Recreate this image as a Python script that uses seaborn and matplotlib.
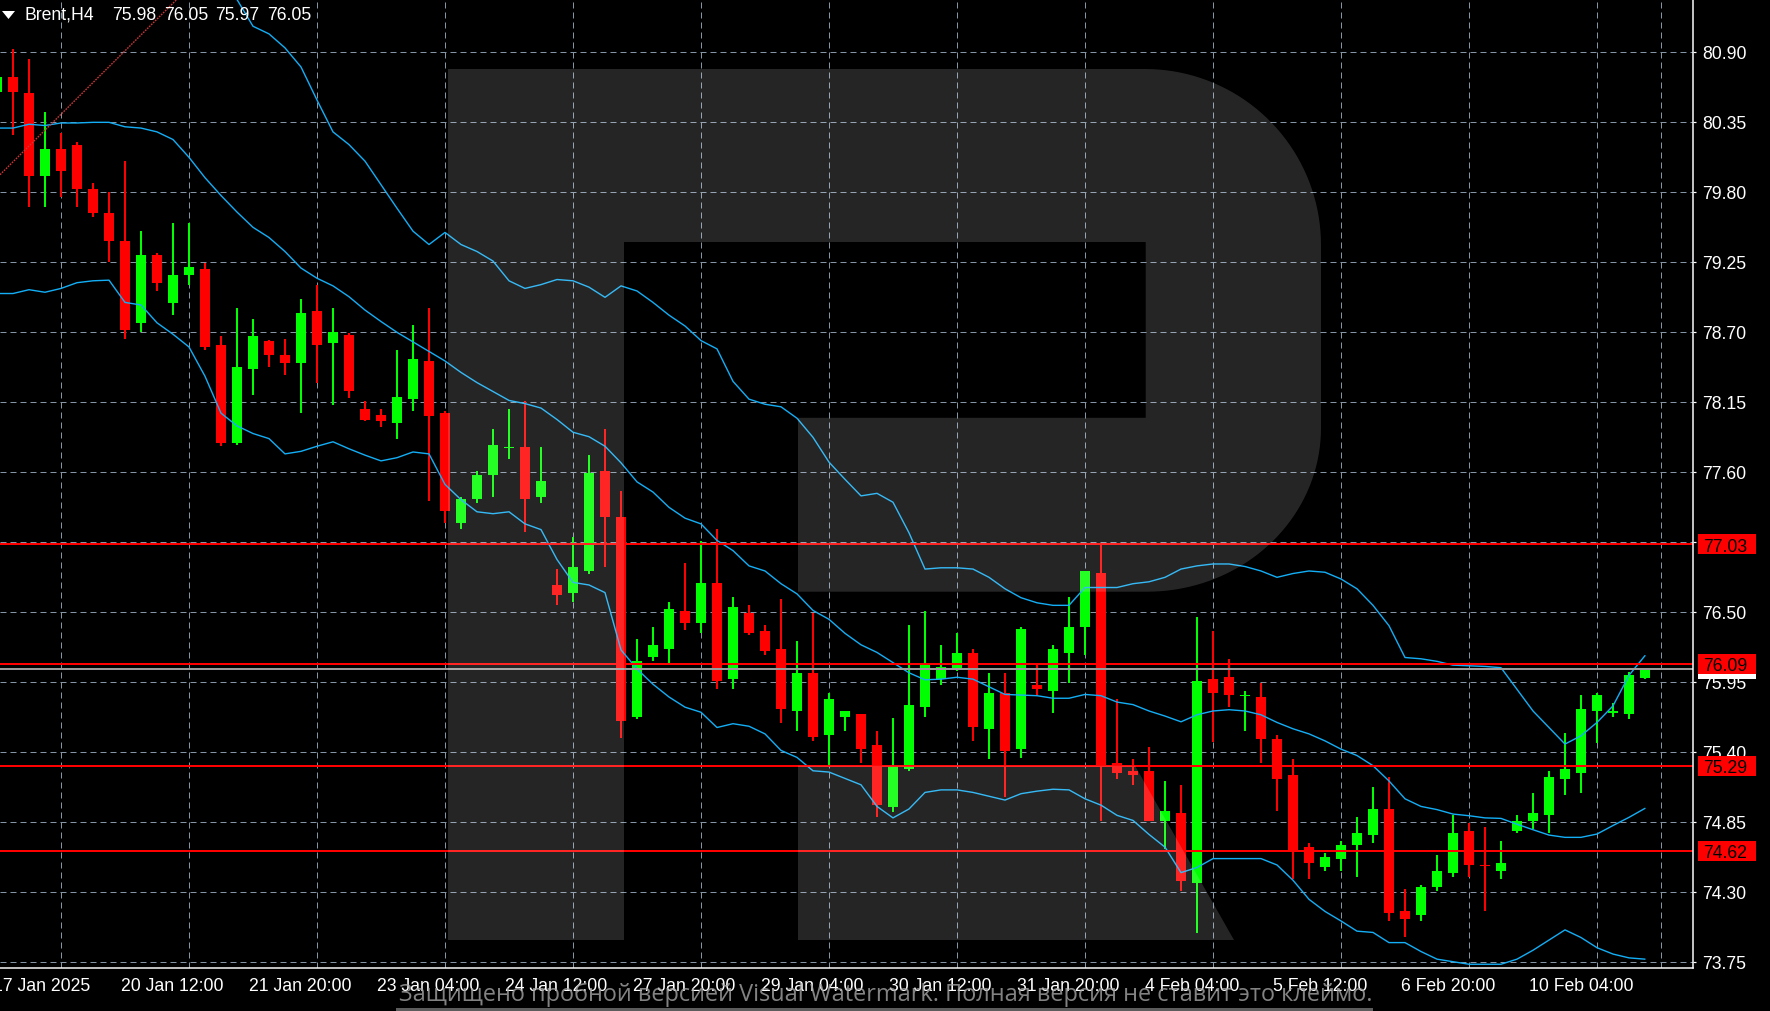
import numpy as np
import pandas as pd
import matplotlib
matplotlib.use("Agg")
import matplotlib.pyplot as plt
import matplotlib.transforms as mtransforms
from matplotlib.patches import Polygon, Rectangle
import seaborn as sns

# ---------------- data ----------------
FIRST_BAR = -1
OPEN = [80.58, 80.70, 80.575, 79.92, 80.135, 80.17, 79.82, 79.63, 79.41, 78.77, 79.30, 78.925, 79.145, 79.19,
        78.595, 77.825, 78.41, 78.63, 78.52, 78.455, 78.86, 78.61, 78.675, 78.09, 78.045, 77.98, 78.17, 78.47,
        78.06, 77.195, 77.385, 77.575, 77.785, 77.795, 77.40, 76.71, 76.65, 76.82, 77.605, 77.245, 75.67,
        76.145, 76.205, 76.505, 76.41, 76.725, 75.97, 76.49, 76.35, 76.21, 75.72, 76.02, 75.53, 75.67, 75.70,
        75.45, 74.965, 75.265, 75.75, 75.97, 76.05, 76.175, 75.58, 75.86, 75.42, 75.925, 75.88, 76.175, 76.38,
        76.805, 75.31, 75.25, 75.25, 74.855, 74.92, 74.37, 75.97, 75.985, 75.835, 75.83, 75.50, 75.215, 74.65,
        74.495, 74.557, 74.667, 74.745, 74.95, 74.148, 74.117, 74.337, 74.447, 74.777, 74.51, 74.46, 74.777,
        74.855, 74.90, 75.185, 75.23, 75.72, 75.705, 75.70, 75.98]
HIGH = [80.85, 80.92, 80.84, 80.43, 80.26, 80.19, 79.87, 79.795, 80.04, 79.49, 79.32, 79.555, 79.555, 79.24,
        78.67, 78.89, 78.80, 78.635, 78.64, 78.96, 79.07, 78.89, 78.69, 78.155, 78.09, 78.56, 78.75, 78.89,
        78.08, 77.40, 77.605, 77.935, 78.09, 78.155, 77.795, 76.835, 77.09, 77.73, 77.935, 77.45, 76.285,
        76.38, 76.58, 76.88, 77.055, 77.15, 76.615, 76.55, 76.395, 76.60, 76.27, 76.49, 75.86, 75.72, 75.70,
        75.56, 75.665, 76.395, 76.505, 76.24, 76.33, 76.21, 76.02, 76.02, 76.38, 76.08, 76.24, 76.615, 76.82,
        77.035, 75.815, 75.34, 75.435, 75.17, 75.14, 76.46, 76.35, 76.13, 75.88, 75.94, 75.53, 75.34, 74.68,
        74.605, 74.70, 74.887, 75.12, 75.20, 74.32, 74.35, 74.59, 74.90, 74.84, 74.808, 74.70, 74.90,
        75.075, 75.25, 75.547, 75.845, 75.86, 75.78, 76.03, 76.05]
LOW = [80.45, 80.245, 79.68, 79.68, 79.76, 79.68, 79.60, 79.25, 78.64, 78.695, 79.02, 78.83, 79.07, 78.56,
       77.80, 77.81, 78.20, 78.42, 78.36, 78.06, 78.30, 78.125, 78.18, 78.00, 77.95, 77.86, 78.08, 77.37,
       77.195, 77.15, 77.355, 77.40, 77.70, 77.13, 77.355, 76.55, 76.58, 76.80, 76.85, 75.51, 75.66,
       76.11, 76.095, 76.36, 76.33, 75.89, 75.89, 76.32, 76.16, 75.625, 75.56, 75.485, 75.295, 75.56, 75.31,
       74.89, 74.93, 75.25, 75.67, 75.925, 76.035, 75.485, 75.34, 75.045, 75.35, 75.845, 75.705, 75.94, 76.16,
       74.855, 75.185, 75.14, 74.855, 74.635, 74.305, 73.975, 75.48, 75.75, 75.56, 75.31, 74.935, 74.40, 74.40,
       74.46, 74.46, 74.415, 74.68, 74.07, 73.944, 74.07, 74.305, 74.415, 74.415, 74.148, 74.40, 74.76,
       74.79, 74.76, 75.06, 75.075, 75.47, 75.67, 75.657, 75.97]
CLOSE = [80.70, 80.58, 79.92, 80.135, 79.965, 79.82, 79.63, 79.41, 78.71, 79.30, 79.08, 79.145, 79.21, 78.58,
         77.825, 78.42, 78.67, 78.52, 78.455, 78.85, 78.595, 78.695, 78.235, 78.01, 78.00, 78.19, 78.485, 78.035,
         77.29, 77.385, 77.575, 77.81, 77.795, 77.385, 77.525, 76.63, 76.85, 77.59, 77.245, 75.64, 76.11,
         76.24, 76.52, 76.41, 76.725, 75.955, 76.535, 76.33, 76.19, 75.735, 76.02, 75.515, 75.815, 75.72, 75.42,
         74.98, 75.28, 75.77, 76.08, 76.065, 76.175, 75.595, 75.86, 75.405, 76.365, 75.89, 76.21, 76.38, 76.82,
         75.29, 75.23, 75.22, 74.855, 74.935, 74.385, 75.955, 75.86, 75.845, 75.845, 75.50, 75.185, 74.62, 74.525,
         74.57, 74.667, 74.76, 74.95, 74.13, 74.085, 74.337, 74.46, 74.76, 74.51, 74.50, 74.525, 74.855,
         74.92, 75.20, 75.264, 75.735, 75.845, 75.715, 76.00, 76.05]

BB_UPPER = [np.nan] * 14 + [81.52, 81.31, 81.10, 81.04, 80.93, 80.78, 80.52, 80.27, 80.17, 80.04, 79.855,
            79.67, 79.49, 79.385, 79.48, 79.385, 79.33, 79.255, 79.10, 79.04, 79.07, 79.11, 79.10, 79.05,
            78.97, 79.06, 79.02, 78.93, 78.83, 78.745, 78.63, 78.565, 78.31, 78.17, 78.13, 78.11, 78.02,
            77.87, 77.675, 77.54, 77.41, 77.43, 77.36, 77.12, 76.835, 76.845, 76.845, 76.835, 76.77, 76.68,
            76.61, 76.57, 76.55, 76.55, 76.69, 76.69, 76.69, 76.72, 76.735, 76.77, 76.835, 76.86, 76.875,
            76.875, 76.855, 76.82, 76.77, 76.80, 76.82, 76.81, 76.757, 76.68, 76.55, 76.39, 76.14, 76.13,
            76.11, 76.08, 76.075, 76.07, 76.06, 75.89, 75.72, 75.59, 75.46, 75.525, 75.63, 75.76, 76.00, 76.155]
BB_MIDDLE = [80.30, 80.30, 80.33, 80.32, 80.34, 80.34, 80.345, 80.345, 80.31, 80.30, 80.27, 80.21, 80.07,
             79.91, 79.77, 79.64, 79.52, 79.44, 79.33, 79.20, 79.12, 79.06, 78.975, 78.87, 78.78, 78.695,
             78.62, 78.545, 78.47, 78.38, 78.30, 78.23, 78.16, 78.135, 78.10, 78.01, 77.91, 77.875, 77.80,
             77.67, 77.52, 77.44, 77.32, 77.235, 77.19, 77.06, 76.98, 76.86, 76.82, 76.72, 76.64, 76.51,
             76.44, 76.33, 76.24, 76.18, 76.10, 76.02, 75.965, 75.97, 75.985, 75.97, 75.91, 75.85, 75.845,
             75.84, 75.82, 75.82, 75.85, 75.84, 75.79, 75.77, 75.72, 75.68, 75.635, 75.69, 75.72, 75.73,
             75.72, 75.69, 75.63, 75.58, 75.54, 75.485, 75.42, 75.37, 75.29, 75.17, 75.03, 74.97, 74.945,
             74.91, 74.897, 74.88, 74.876, 74.83, 74.787, 74.745, 74.727, 74.727, 74.753, 74.82, 74.884, 74.955]
BB_LOWER = [79.00, 79.00, 79.03, 79.01, 79.04, 79.085, 79.10, 79.105, 78.93, 78.91, 78.77, 78.68, 78.58,
            78.35, 78.06, 77.96, 77.90, 77.86, 77.74, 77.76, 77.80, 77.835, 77.78, 77.73, 77.685, 77.71,
            77.755, 77.74, 77.50, 77.38, 77.285, 77.27, 77.285, 77.19, 77.145, 76.91, 76.73, 76.71, 76.65,
            76.20, 76.05, 75.93, 75.83, 75.75, 75.71, 75.59, 75.62, 75.60, 75.54, 75.41, 75.355, 75.25,
            75.24, 75.19, 75.14, 74.97, 74.88, 74.95, 75.08, 75.10, 75.10, 75.08, 75.05, 75.02, 75.07,
            75.09, 75.105, 75.10, 75.03, 74.98, 74.90, 74.86, 74.75, 74.65, 74.45, 74.49, 74.56, 74.56,
            74.56, 74.56, 74.51, 74.39, 74.24, 74.145, 74.07, 73.99, 73.98, 73.90, 73.90, 73.83, 73.77,
            73.75, 73.73, 73.73, 73.73, 73.77, 73.84, 73.92, 74.00, 73.94, 73.86, 73.81, 73.78, 73.77]

LEVELS = [77.03, 76.09, 75.29, 74.62]
BID = 76.05
PRICE_TICKS = [80.90, 80.35, 79.80, 79.25, 78.70, 78.15, 77.60, 77.05, 76.50, 75.95, 75.40, 74.85, 74.30, 73.75]
TIME_TICKS = [-1, 7, 15, 23, 31, 39, 47, 55, 63, 71, 79, 87, 95]
TIME_LABELS = ["17 Jan 2025", "20 Jan 12:00", "21 Jan 20:00", "23 Jan 04:00", "24 Jan 12:00", "27 Jan 20:00",
               "29 Jan 04:00", "30 Jan 12:00", "31 Jan 20:00", "4 Feb 04:00", "5 Feb 12:00", "6 Feb 20:00",
               "10 Feb 04:00"]
GRID_BARS = list(range(3, 104, 4))
TREND_X = [-1.0, 12.0]
TREND_Y = [79.91, 81.53]
SYMBOL = "Brent,H4"
TITLE_VALUES = ["75.98", "76.05", "75.97", "76.05"]
TRIAL_TEXT = "Защищено пробной версией Visual Watermark. Полная версия не ставит это клеймо."

# ---------------- geometry (pixels) ----------------
W, H = 1770, 1012
AX_R, AX_B = 1693, 968.6
X0, PXB = 13.0, 16.0
PPX = 0.55 / 70.0            # price per pixel


def p_at(py):
    return 80.90 - (py - 52.7) * PPX


PX = 1 / 100 * 72            # points per pixel

sns.set_theme(style="dark", rc={"axes.facecolor": "black", "figure.facecolor": "black",
                                "axes.edgecolor": "white", "lines.scale_dashes": True})
plt.rcParams["font.family"] = ["Liberation Sans", "DejaVu Sans"]

fig = plt.figure(figsize=(W / 100, H / 100), dpi=100)
fig.patch.set_facecolor("black")
ax = fig.add_axes([0, (H - AX_B) / H, AX_R / W, AX_B / H])
ax.set_facecolor("black")

n = len(OPEN)
idx = np.arange(FIRST_BAR, FIRST_BAR + n)
o = np.array(OPEN); h = np.array(HIGH); l = np.array(LOW); c = np.array(CLOSE)
up = c >= o
col = np.where(up, "#00ff00", "#ff0000")

ax.set_xlim(-X0 / PXB, (AX_R - X0) / PXB)
ax.set_ylim(p_at(AX_B), p_at(0))

# grid
ax.set_axisbelow(True)
ax.set_xticks(GRID_BARS, minor=True)
ax.set_xticks([t for t in TIME_TICKS if t >= 0])
ax.set_xticklabels([])
ax.set_yticks(PRICE_TICKS)
ax.set_yticklabels([f"{v:.2f}" for v in PRICE_TICKS])
ax.yaxis.tick_right()
gstyle = dict(color="#8595a6", linewidth=PX, linestyle=(0, (6, 4)))
ax.xaxis.grid(True, which="minor", **gstyle)
ax.xaxis.grid(False, which="major")
ax.yaxis.grid(True, which="major", **gstyle)
ax.tick_params(axis="x", which="minor", length=0)
ax.tick_params(axis="x", which="major", length=5 * PX, width=1.2 * PX, colors="white", labelbottom=False)
ax.tick_params(axis="y", which="major", length=3 * PX, width=1.2 * PX, colors="white", pad=6 * PX,
               labelsize=12.7, labelcolor="white")
for s in ["top", "left"]:
    ax.spines[s].set_visible(False)
for s in ["right", "bottom"]:
    ax.spines[s].set_color("white")
    ax.spines[s].set_linewidth(1.5 * PX)
    ax.spines[s].set_zorder(8)

# candles
min_h = 1.6 * PPX
body_bottom = np.minimum(o, c)
body_h = np.maximum(np.abs(c - o), min_h)
ax.vlines(idx, l, h, colors=col, linewidth=2 * PX, zorder=3)
ax.bar(idx, body_h, bottom=body_bottom, width=10 / PXB, color=col, linewidth=0, zorder=3)

# Bollinger bands
bb = pd.DataFrame({"bar": np.tile(idx, 3),
                   "price": np.concatenate([BB_UPPER, BB_MIDDLE, BB_LOWER]),
                   "band": ["upper"] * n + ["middle"] * n + ["lower"] * n})
sns.lineplot(data=bb, x="bar", y="price", hue="band", palette=["#13aef5"] * 3, legend=False,
             linewidth=1.4 * PX, estimator=None, ax=ax, zorder=4)
ax.set_xlabel(""); ax.set_ylabel("")

# horizontal levels and bid line
for lv in LEVELS:
    ax.axhline(lv, color="#ff0000", linewidth=2 * PX, zorder=4)
ax.axhline(BID, color="#9a9a9a", linewidth=2 * PX, zorder=4)

# trend line (ray)
ax.axline((TREND_X[0], TREND_Y[0]), (TREND_X[1], TREND_Y[1]), color="#cc3535",
          linewidth=1.4 * PX, linestyle=(0, (1.2, 0.8)), zorder=4)

# watermark logo overlay (pixel geometry)


def arc(cx, cy, rx, ry, t0, t1, k=40):
    t = np.radians(np.linspace(t0, t1, k))
    return list(zip(cx + rx * np.cos(t), cy - ry * np.sin(t)))


def to_ax(pts):
    return [(x / AX_R, 1 - y / AX_B) for x, y in pts]


p_shape = ([(448, 941), (448, 70), (1145, 70)] + arc(1145, 246, 176, 176, 90, 0)[1:] + [(1321, 429)]
           + arc(1147, 429, 174, 163.7, 0, -90)[1:]
           + [(798, 592.7), (798, 418.8), (1145.7, 418.8), (1145.7, 243), (624, 243), (624, 941)])
leg = [(798, 766.7), (1135, 766.7), (1234, 941), (798, 941)]
for shp in (p_shape, leg):
    ax.add_patch(Polygon(to_ax(shp), closed=True, transform=ax.transAxes, facecolor="white",
                         alpha=0.15, edgecolor="none", zorder=6))

# date labels
for t, lab in zip(TIME_TICKS, TIME_LABELS):
    ax.annotate(lab, xy=(t, 0), xycoords=("data", "axes fraction"), xytext=(-4 * PX, -18.4 * PX),
                textcoords="offset points", ha="left", va="center", color="white", fontsize=12.7,
                annotation_clip=False)

# price boxes
bt = mtransforms.blended_transform_factory(fig.transFigure, ax.transData)
half = 10 * PPX
ax.add_patch(Rectangle((1698 / W, BID - half), 58 / W, 2 * half, transform=bt, facecolor="white",
                       edgecolor="none", clip_on=False, zorder=10))
for lv in LEVELS:
    ax.add_patch(Rectangle((1698 / W, lv - half), 58 / W, 2 * half, transform=bt, facecolor="#ff0000",
                           edgecolor="none", clip_on=False, zorder=11))
    ax.text(1703 / W, lv, f"{lv:.2f}", transform=bt, ha="left", va="center_baseline", color="black",
            fontsize=12.7, zorder=12, clip_on=False)

# title
fig.patches.append(Polygon([(2 / W, 1 - 12 / H), (15 / W, 1 - 12 / H), (8.5 / W, 1 - 20 / H)],
                           closed=True, transform=fig.transFigure, facecolor="white", edgecolor="none"))
fig.text(25 / W, 1 - 15 / H, SYMBOL, color="white", fontsize=12.7, ha="left", va="center")
for xp, v in zip([112, 164, 215, 267], TITLE_VALUES):
    fig.text(xp / W, 1 - 15 / H, v, color="white", fontsize=12.7, ha="left", va="center")

# trial watermark text
fig.text(886 / W, 1 - 995 / H, TRIAL_TEXT, color="#a4a4a4", alpha=0.8, fontsize=16.9,
         family=["Open Sans", "DejaVu Sans"], ha="center", va="center")
fig.patches.append(Rectangle((396 / W, 0), (1373 - 396) / W, 3 / H, transform=fig.transFigure,
                             facecolor="#5c5c5c", edgecolor="none"))

fig.savefig("out.png", dpi=100, facecolor="black")
